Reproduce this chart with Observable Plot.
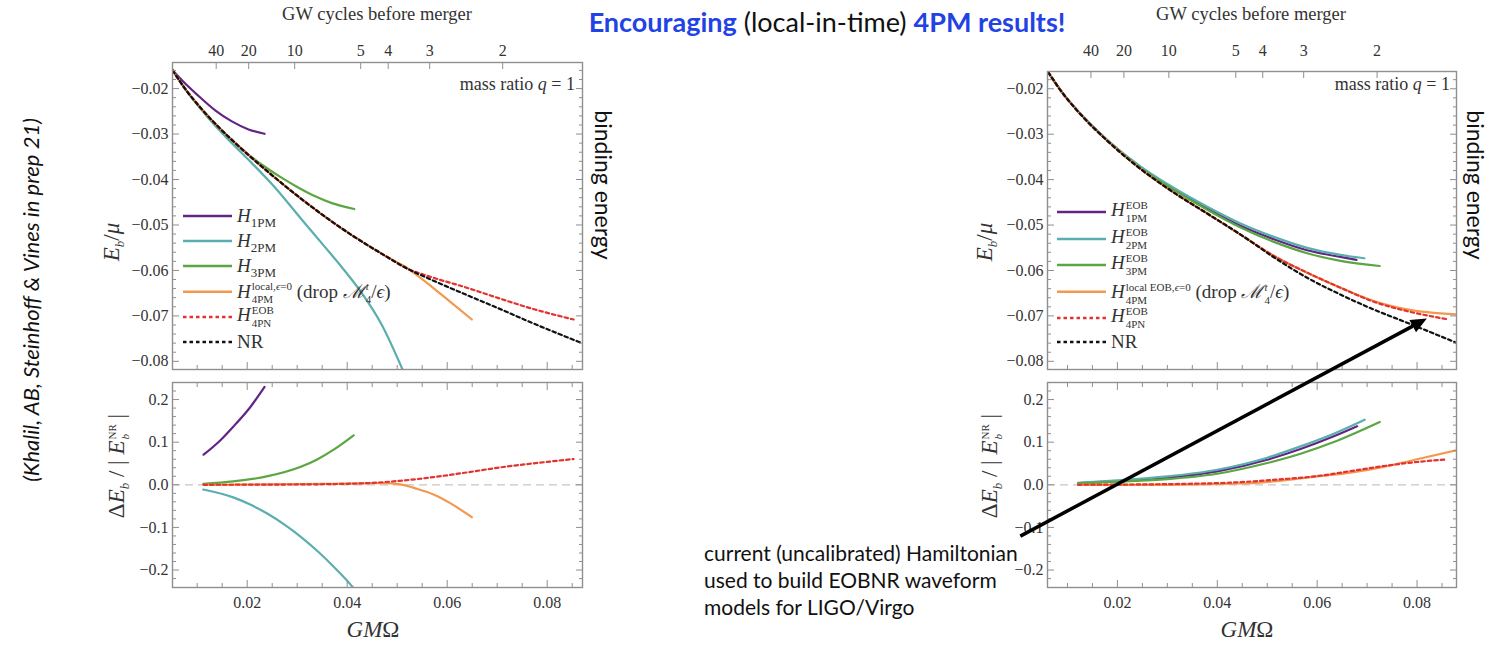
<!DOCTYPE html>
<html><head><meta charset="utf-8">
<script src="https://cdn.jsdelivr.net/npm/d3@7"></script>
<script src="https://cdn.jsdelivr.net/npm/@observablehq/plot@0.6"></script>
<style>
html,body{margin:0;padding:0;background:#fff;}
#root{position:relative;width:1489px;height:660px;overflow:hidden;background:#fff;}
.abs{position:absolute;white-space:nowrap;}
.serif{font-family:"Liberation Serif","DejaVu Serif",serif;color:#333;}
.sans{font-family:Lato,"Open Sans",sans-serif;}
.rot{transform:translate(-50%,-50%) rotate(-90deg);}
.rotcw{transform:translate(-50%,-50%) rotate(90deg);}
.ss{display:inline-flex;flex-direction:column;vertical-align:middle;font-size:11px;line-height:13px;margin-left:1px;}
.ss > span{display:block;height:13px;}
.sub{font-size:13px;position:relative;top:5px;}
.row{position:absolute;display:flex;align-items:center;transform:translateY(-50%);}
</style></head><body><div id="root"></div>
<script>
// ---------- data ----------
const xMajor = [0.02, 0.04, 0.06, 0.08];
const xLabels = ["0.02", "0.04", "0.06", "0.08"];
const xMinor = [0.01, 0.015, 0.025, 0.03, 0.035, 0.045, 0.05, 0.055, 0.065, 0.07, 0.075, 0.085];
const eMajor = [-0.08, -0.07, -0.06, -0.05, -0.04, -0.03, -0.02];
const eLabels = ["−0.08", "−0.07", "−0.06", "−0.05", "−0.04", "−0.03", "−0.02"];
const eMinor = [-0.078,-0.076,-0.074,-0.072,-0.068,-0.066,-0.064,-0.062,-0.058,-0.056,-0.054,-0.052,-0.048,-0.046,-0.044,-0.042,-0.038,-0.036,-0.034,-0.032,-0.028,-0.026,-0.024,-0.022,-0.018,-0.016];
const dMajor = [-0.2, -0.1, 0, 0.1, 0.2];
const dLabels = ["−0.2", "−0.1", "0.0", "0.1", "0.2"];
const dMinor = [-0.22,-0.18,-0.16,-0.14,-0.12,-0.08,-0.06,-0.04,-0.02,0.02,0.04,0.06,0.08,0.12,0.14,0.16,0.18,0.22];
const gwLabels = ["40", "20", "10", "5", "4", "3", "2"];
const gwLeftX = [0.0138, 0.0203, 0.0295, 0.0427, 0.0482, 0.0565, 0.0711];
const gwRightX = [0.0147, 0.0213, 0.0303, 0.0437, 0.0491, 0.0573, 0.0720];

// left panel, binding energy E_b/mu vs GM Omega
const L_H1PM = [[0.00507,-0.01596],[0.0076,-0.0189],[0.01027,-0.02163],[0.0136,-0.02479],[0.01693,-0.02722],[0.02027,-0.02898],[0.02347,-0.02994]];
const L_H2PM = [[0.00507,-0.01596],[0.0076,-0.0201],[0.01027,-0.0239],[0.0136,-0.0282],[0.01693,-0.032],[0.02093,-0.0364],[0.02493,-0.041],[0.03127,-0.0493],[0.03527,-0.0545],[0.03893,-0.0593],[0.04293,-0.065],[0.04693,-0.072],[0.05107,-0.0818],[0.0525,-0.0855]];
const L_H3PM = [[0.00507,-0.01596],[0.0076,-0.02006],[0.01093,-0.02456],[0.01427,-0.02847],[0.01693,-0.03129],[0.02027,-0.0345],[0.0236,-0.03725],[0.02693,-0.03965],[0.03027,-0.0418],[0.0336,-0.0437],[0.03693,-0.0452],[0.0414,-0.0465]];
const L_H4PM = [[0.00507,-0.01596],[0.0076,-0.02006],[0.01093,-0.02456],[0.01427,-0.02847],[0.01693,-0.03129],[0.02027,-0.03463],[0.0236,-0.03779],[0.03027,-0.04379],[0.03693,-0.04925],[0.04093,-0.05225],[0.0476,-0.05679],[0.0516,-0.0592],[0.05427,-0.0613],[0.05693,-0.0636],[0.06027,-0.0666],[0.06493,-0.0708]];
const L_H4PN = [[0.00507,-0.01596],[0.0076,-0.02006],[0.01093,-0.02456],[0.01427,-0.02847],[0.01693,-0.03129],[0.02027,-0.03463],[0.0236,-0.03779],[0.03027,-0.04379],[0.03693,-0.04925],[0.04093,-0.05225],[0.0476,-0.05679],[0.0516,-0.05937],[0.05693,-0.0615],[0.0636,-0.0637],[0.07027,-0.0661],[0.07693,-0.0684],[0.08527,-0.0708]];
const L_NR = [[0.00507,-0.01596],[0.0076,-0.02006],[0.01093,-0.02456],[0.01427,-0.02847],[0.01693,-0.03129],[0.02027,-0.03463],[0.0236,-0.03779],[0.03027,-0.04379],[0.03693,-0.04925],[0.04093,-0.05225],[0.0476,-0.05679],[0.0516,-0.05937],[0.05693,-0.0621],[0.0636,-0.06526],[0.07027,-0.06835],[0.07693,-0.07152],[0.0868,-0.07594]];
// left panel, relative error
const LD_H1PM = [[0.01127,0.0706],[0.0146,0.104],[0.01727,0.137],[0.0206,0.182],[0.02347,0.2298]];
const LD_H2PM = [[0.0112,-0.0111],[0.0172,-0.0296],[0.0206,-0.0464],[0.024,-0.0675],[0.0276,-0.0946],[0.0306,-0.1209],[0.0342,-0.1572],[0.0372,-0.1911],[0.0412,-0.2416],[0.0425,-0.262]];
const LD_H3PM = [[0.0112,0.0024],[0.0172,0.0078],[0.0239,0.0196],[0.0306,0.0416],[0.0339,0.0588],[0.0373,0.0824],[0.0413,0.1161]];
const LD_H4PM = [[0.01127,0.0],[0.02393,0.0008],[0.03727,0.0024],[0.04393,0.0035],[0.04727,0.0039],[0.0506,0.0008],[0.05393,-0.0094],[0.05727,-0.0227],[0.0606,-0.0431],[0.06493,-0.0761]];
const LD_H4PN = [[0.01127,0.0],[0.0306,0.0008],[0.04393,0.0039],[0.0506,0.0094],[0.05727,0.018],[0.06393,0.029],[0.0706,0.0408],[0.07727,0.0502],[0.08527,0.0604]];

// right panel, binding energy
const R_H1PM = [[0.00613,-0.01633],[0.009,-0.02092],[0.01199,-0.0248],[0.01799,-0.03135],[0.02466,-0.0373],[0.03133,-0.04208],[0.03799,-0.04635],[0.04466,-0.05017],[0.05133,-0.05312],[0.05799,-0.05555],[0.06466,-0.05702],[0.06786,-0.05768]];
const R_H2PM = [[0.00613,-0.01633],[0.009,-0.02092],[0.01199,-0.02478],[0.01799,-0.03128],[0.02466,-0.03715],[0.03133,-0.04186],[0.03799,-0.04598],[0.04466,-0.04966],[0.05133,-0.05261],[0.05799,-0.05503],[0.06466,-0.05658],[0.06946,-0.05731]];
const R_H3PM = [[0.00613,-0.01633],[0.009,-0.02092],[0.01199,-0.02482],[0.01799,-0.0314],[0.02466,-0.03745],[0.03133,-0.0423],[0.03799,-0.04664],[0.04466,-0.05054],[0.05133,-0.05371],[0.05799,-0.05621],[0.06466,-0.0579],[0.07253,-0.05901]];
const R_H4PM = [[0.00613,-0.01633],[0.009,-0.02092],[0.01199,-0.02487],[0.01799,-0.03147],[0.02466,-0.03767],[0.03133,-0.04287],[0.03799,-0.04747],[0.04466,-0.0521],[0.05133,-0.0568],[0.05799,-0.06048],[0.06466,-0.06379],[0.07133,-0.06673],[0.07799,-0.06857],[0.08786,-0.06967]];
const R_H4PN = [[0.00613,-0.01633],[0.009,-0.02092],[0.01199,-0.02487],[0.01799,-0.03147],[0.02466,-0.03767],[0.03133,-0.04287],[0.03799,-0.04747],[0.04466,-0.0521],[0.05133,-0.0568],[0.05799,-0.06048],[0.06466,-0.06379],[0.07133,-0.06688],[0.07799,-0.06894],[0.08633,-0.07078]];
const R_NR = [[0.00613,-0.01633],[0.009,-0.02092],[0.01199,-0.02487],[0.01799,-0.03147],[0.02466,-0.03767],[0.03133,-0.04287],[0.03799,-0.04747],[0.04466,-0.0521],[0.05133,-0.0571],[0.05799,-0.0616],[0.06466,-0.0653],[0.07133,-0.0686],[0.07799,-0.0715],[0.08786,-0.0759]];
// right panel, relative error
const RD_H1PM = [[0.01213,0.0039],[0.02,0.0086],[0.03,0.0165],[0.04,0.0314],[0.05,0.0588],[0.05667,0.0839],[0.06333,0.1137],[0.068,0.1373]];
const RD_H2PM = [[0.01213,0.0047],[0.02,0.0102],[0.03,0.0196],[0.04,0.0353],[0.05,0.0635],[0.05667,0.0902],[0.06333,0.12],[0.06953,0.1529]];
const RD_H3PM = [[0.01213,0.0031],[0.02,0.0071],[0.03,0.0133],[0.04,0.0259],[0.05,0.051],[0.05667,0.0729],[0.06333,0.1004],[0.07253,0.1475]];
const RD_H4PM = [[0.01213,0],[0.03,0],[0.04333,0.0024],[0.05333,0.0102],[0.06,0.0196],[0.06667,0.0285],[0.07333,0.042],[0.08,0.06],[0.08787,0.0808]];
const RD_H4PN = [[0.01213,0],[0.03,0.0016],[0.04333,0.0055],[0.05333,0.0133],[0.06,0.0204],[0.06667,0.0322],[0.07333,0.044],[0.08,0.0535],[0.086,0.0596]];

// arrow annotation (tail in right lower panel coords, head in right upper panel coords)
const arrowTail = {x: 0.00066, d: -0.1216};
const arrowHead = {x: 0.08206, e: -0.0707};

const legendKeys = ["H1PM", "H2PM", "H3PM", "H4PM", "H4PN", "NR"];

// ---------- styles ----------
const C = {purple: "#632585", teal: "#5aaead", green: "#5aa640", orange: "#f2994f", red: "#e2332f", black: "#111"};
const frameColor = "#8f8f8f";
const dots = "3.5,3";

function seriesSet(a, b, c, d, e, f) {
  const s = [
    {data: a, color: C.purple}, {data: b, color: C.teal}, {data: c, color: C.green},
    {data: d, color: C.orange}, {data: e, color: C.red, dash: dots}
  ];
  if (f) s.push({data: f, color: C.black, dash: dots});
  return s;
}

function panel(o) {
  const [x0, x1] = o.xDomain, [y0, y1] = o.yDomain;
  const inX = v => v >= x0 && v <= x1;
  const inY = v => v >= y0 && v <= y1;
  const ax = {stroke: frameColor, strokeWidth: 1, label: null};
  const blank = () => "";
  const marks = [];
  if (o.zero) marks.push(Plot.ruleY([0], {stroke: "#c6c6c6", strokeWidth: 1.3, strokeDasharray: "8,5"}));
  for (const s of o.series) {
    marks.push(Plot.line(s.data, {x: d => d[0], y: d => d[1], stroke: s.color, strokeWidth: 2.2,
      strokeDasharray: s.dash, curve: "monotone-x", clip: true}));
  }
  marks.push(Plot.frame({stroke: frameColor, strokeWidth: 1.4}));
  marks.push(Plot.axisY({anchor: "left", ticks: o.yMajor.filter(inY), tickSize: -7, tickPadding: 11,
    tickFormat: d => o.yLabels[o.yMajor.indexOf(d)], ...ax}));
  marks.push(Plot.axisY({anchor: "left", ticks: o.yMinor.filter(inY), tickSize: -4, tickFormat: blank, ...ax}));
  marks.push(Plot.axisY({anchor: "right", ticks: o.yMajor.filter(inY), tickSize: -7, tickFormat: blank, ...ax}));
  marks.push(Plot.axisY({anchor: "right", ticks: o.yMinor.filter(inY), tickSize: -4, tickFormat: blank, ...ax}));
  marks.push(Plot.axisX({anchor: "bottom", ticks: xMajor.filter(inX), tickSize: -7, tickPadding: 16,
    tickFormat: o.xLabels ? (d => xLabels[xMajor.indexOf(d)]) : blank, ...ax}));
  marks.push(Plot.axisX({anchor: "bottom", ticks: xMinor.filter(inX), tickSize: -4, tickFormat: blank, ...ax}));
  if (o.gwX) {
    marks.push(Plot.axisX({anchor: "top", ticks: o.gwX, tickSize: -6, tickPadding: o.gwPad,
      tickFormat: d => gwLabels[o.gwX.indexOf(d)], ...ax}));
  } else {
    marks.push(Plot.axisX({anchor: "top", ticks: xMajor.filter(inX), tickSize: -7, tickFormat: blank, ...ax}));
    marks.push(Plot.axisX({anchor: "top", ticks: xMinor.filter(inX), tickSize: -4, tickFormat: blank, ...ax}));
  }
  const svg = Plot.plot({
    width: o.width, height: o.height,
    marginLeft: o.mL, marginRight: o.mR, marginTop: o.mT, marginBottom: o.mB,
    x: {domain: o.xDomain}, y: {domain: o.yDomain},
    style: {fontFamily: '"Liberation Serif", serif', fontSize: "16px", color: "#333", background: "transparent", overflow: "visible"},
    marks
  });
  svg.style.position = "absolute";
  svg.style.left = o.left + "px";
  svg.style.top = o.top + "px";
  return svg;
}

const root = document.getElementById("root");

const LT = panel({left: 0, top: 0, width: 600, height: 375, mL: 172, mR: 18, mT: 62, mB: 6,
  xDomain: [0.00506, 0.08706], yDomain: [-0.0818, -0.01426],
  yMajor: eMajor, yLabels: eLabels, yMinor: eMinor, gwX: gwLeftX, gwPad: 13,
  series: seriesSet(L_H1PM, L_H2PM, L_H3PM, L_H4PM, L_H4PN, L_NR)});
const LB = panel({left: 0, top: 370, width: 600, height: 290, mL: 172, mR: 18, mT: 12, mB: 73,
  xDomain: [0.00506, 0.08706], yDomain: [-0.241, 0.240], zero: true, xLabels: true,
  yMajor: dMajor, yLabels: dLabels, yMinor: dMinor,
  series: seriesSet(LD_H1PM, LD_H2PM, LD_H3PM, LD_H4PM, LD_H4PN)});
const RT = panel({left: 880, top: 0, width: 600, height: 375, mL: 167, mR: 24, mT: 71, mB: 6,
  xDomain: [0.006, 0.0879], yDomain: [-0.0818, -0.0162],
  yMajor: eMajor, yLabels: eLabels, yMinor: eMinor, gwX: gwRightX, gwPad: 22,
  series: seriesSet(R_H1PM, R_H2PM, R_H3PM, R_H4PM, R_H4PN, R_NR)});
const RB = panel({left: 880, top: 370, width: 600, height: 290, mL: 167, mR: 24, mT: 12, mB: 73,
  xDomain: [0.006, 0.0879], yDomain: [-0.241, 0.240], zero: true, xLabels: true,
  yMajor: dMajor, yLabels: dLabels, yMinor: dMinor,
  series: seriesSet(RD_H1PM, RD_H2PM, RD_H3PM, RD_H4PM, RD_H4PN)});
[LT, LB, RT, RB].forEach(s => root.appendChild(s));

// ---------- text ----------
function addDiv(html, cls, css) {
  const d = document.createElement("div");
  d.className = "abs " + cls;
  d.innerHTML = html;
  Object.assign(d.style, css);
  root.appendChild(d);
  return d;
}
const ss = (sup, sub) => `<span class="ss"><span>${sup}</span><span>${sub}</span></span>`;

addDiv(`<span style="color:#1f43e4;font-weight:700">Encouraging</span> (local-in-time) <span style="color:#1f43e4;font-weight:700">4PM results!</span>`,
  "sans", {left: "827px", top: "6px", transform: "translateX(-50%)", fontSize: "27px", lineHeight: "32px", color: "#111"});

for (const cx of [377, 1251]) {
  addDiv("GW cycles before merger", "serif", {left: cx + "px", top: "3px", transform: "translateX(-50%)", fontSize: "18.5px", lineHeight: "22px"});
  addDiv("<i>GM</i>Ω", "serif", {left: cx - 4 + "px", top: "618px", transform: "translateX(-50%)", fontSize: "23px", lineHeight: "24px"});
}
for (const rx of [575, 1450]) {
  addDiv("mass ratio <i>q</i> = 1", "serif", {left: rx + "px", top: "73px", transform: "translateX(-100%)", fontSize: "18px", lineHeight: "22px"});
}
for (const cx of [112, 985]) {
  addDiv(`<i>E</i><span class="sub"><i>b</i></span>/<i>μ</i>`, "serif rot", {left: cx + "px", top: "242px", fontSize: "23px"});
  addDiv(`Δ<i>E</i><span class="sub"><i>b</i></span> / | <i>E</i>${ss("NR", "<i>b</i>")} |`, "serif rot", {left: cx + 6 + "px", top: "466px", fontSize: "23px"});
}
for (const cx of [604, 1476]) {
  addDiv("binding energy", "sans rotcw", {left: cx + "px", top: "185px", fontSize: "23px", color: "#111"});
}
addDiv("(Khalil, AB, Steinhoff &amp; Vines in prep 21)", "sans rot", {left: "30px", top: "300px", fontSize: "22px", fontStyle: "italic", color: "#111"});
addDiv("current (uncalibrated) Hamiltonian<br>used to build EOBNR waveform<br>models for LIGO/Virgo", "sans",
  {left: "704px", top: "539px", fontSize: "21px", lineHeight: "27px", color: "#111"});

// legends
const dropTxt = `&nbsp;(drop <i>ℳ</i>${ss("<i>t</i>", "4")}/<i>ϵ</i>)`;
const leftLabels = {
  H1PM: `<i>H</i><span class="sub">1PM</span>`,
  H2PM: `<i>H</i><span class="sub">2PM</span>`,
  H3PM: `<i>H</i><span class="sub">3PM</span>`,
  H4PM: `<i>H</i>${ss("local,<i>ϵ</i>=0", "4PM")}${dropTxt}`,
  H4PN: `<i>H</i>${ss("EOB", "4PN")}`,
  NR: "NR"
};
const rightLabels = {
  H1PM: `<i>H</i>${ss("EOB", "1PM")}`,
  H2PM: `<i>H</i>${ss("EOB", "2PM")}`,
  H3PM: `<i>H</i>${ss("EOB", "3PM")}`,
  H4PM: `<i>H</i>${ss("local EOB,<i>ϵ</i>=0", "4PM")}${dropTxt}`,
  H4PN: `<i>H</i>${ss("EOB", "4PN")}`,
  NR: "NR"
};
const legendStyle = {H1PM: [C.purple, null], H2PM: [C.teal, null], H3PM: [C.green, null], H4PM: [C.orange, null], H4PN: [C.red, dots], NR: [C.black, dots]};
function legend(x, ys, labels) {
  legendKeys.forEach((k, i) => {
    const [col, dash] = legendStyle[k];
    const row = document.createElement("div");
    row.className = "row serif";
    Object.assign(row.style, {left: x + "px", top: ys[i] + "px", fontSize: "19px", color: "#333"});
    row.innerHTML = `<svg width="49" height="6" style="display:block"><line x1="0" x2="49" y1="3" y2="3" stroke="${col}" stroke-width="2.4" ${dash ? `stroke-dasharray="${dash}"` : ""}/></svg><span style="margin-left:5px">${labels[k]}</span>`;
    root.appendChild(row);
  });
}
legend(183, [216, 240.5, 265.5, 291.5, 317, 342], leftLabels);
legend(1057, [212, 238.5, 265, 292, 318, 342], rightLabels);

// arrow
const ov = d3.select(root).append("svg").attr("width", 1489).attr("height", 660)
  .style("position", "absolute").style("left", 0).style("top", 0).style("pointer-events", "none");
const tx = 880 + RB.scale("x").apply(arrowTail.x), ty = 370 + RB.scale("y").apply(arrowTail.d);
const hx = 880 + RT.scale("x").apply(arrowHead.x), hy = RT.scale("y").apply(arrowHead.e);
const ang = Math.atan2(hy - ty, hx - tx), hl = 16, hw = 7;
const bx = hx - hl * Math.cos(ang), by = hy - hl * Math.sin(ang);
ov.append("line").attr("x1", tx).attr("y1", ty).attr("x2", bx).attr("y2", by).attr("stroke", "#000").attr("stroke-width", 3.5);
ov.append("polygon").attr("fill", "#000").attr("points",
  [[hx, hy], [bx + hw * Math.sin(ang), by - hw * Math.cos(ang)], [bx - hw * Math.sin(ang), by + hw * Math.cos(ang)]].map(p => p.join(",")).join(" "));
</script></body></html>
